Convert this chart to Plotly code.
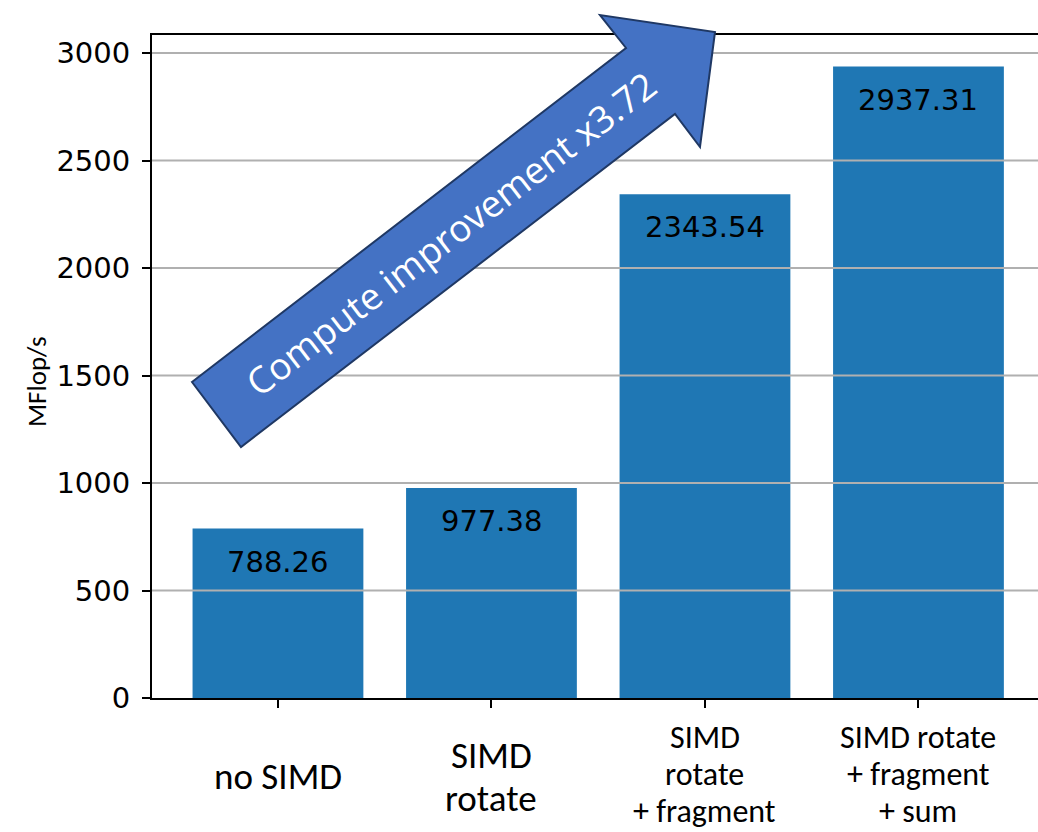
import plotly.graph_objects as go

# Benchmark data
categories = ["no SIMD", "SIMD rotate", "SIMD rotate + fragment", "SIMD rotate + fragment + sum"]
tick_lines = [
    ["no SIMD"],
    ["SIMD", "rotate"],
    ["SIMD", "rotate", "+ fragment"],
    ["SIMD rotate", "+ fragment", "+ sum"],
]
mflops = [788.26, 977.38, 2343.54, 2937.31]
y_ticks = [0, 500, 1000, 1500, 2000, 2500, 3000]
speedup_text = "Compute improvement x3.72"

W, H = 1038, 832
L, T, B = 152, 35, 134
PW, PH = W - L, H - T - B          # plot area in pixels
x_range = [-0.59, -0.59 + PW / 213.5]
y_range = [0, max(mflops) * 1.05]

BAR = "#1f77b4"
GRID = "#b0b0b0"
NUM_FONT = "DejaVu Sans"
LBL_FONT = "Calibri, Carlito, Lato, sans-serif"

# per-label text style: font size, line pitch (px) and first-line centre (px)
label_style = [(37, 43, 776.5), (37, 43, 755.5), (32, 37, 737), (32, 37, 737)]


def px2paper(px, py):
    return (px - L) / PW, (H - B - py) / PH


fig = go.Figure(go.Bar(
    x=categories, y=mflops, width=0.8,
    marker=dict(color=BAR, line=dict(width=0)),
    hoverinfo="skip",
))

shapes = []
# horizontal grid drawn over the bars
for v in y_ticks[1:]:
    shapes.append(dict(type="line", xref="paper", yref="y", x0=0, x1=1, y0=v, y1=v,
                       line=dict(color=GRID, width=2), layer="above"))

# block arrow
arrow_px = [(192, 382), (626, 48), (600, 15), (715, 32), (700, 147), (675, 114), (241, 447)]
pts = [px2paper(*p) for p in arrow_px]
path = "M " + " L ".join(f"{x:.5f},{y:.5f}" for x, y in pts) + " Z"
shapes.append(dict(type="path", xref="paper", yref="paper", path=path,
                   fillcolor="#4472c4", line=dict(color="#1f3864", width=2), layer="above"))

annotations = []
# value labels inside the bar tops
for c, v in zip(categories, mflops):
    annotations.append(dict(x=c, y=v, xref="x", yref="y", text=f"{v:.2f}",
                            showarrow=False, yanchor="middle", yshift=-33,
                            font=dict(family=NUM_FONT, size=29, color="black")))
# category labels under each tick, one annotation per line
for c, lines, (fs, pitch, y0) in zip(categories, tick_lines, label_style):
    for i, line in enumerate(lines):
        annotations.append(dict(x=c, y=px2paper(0, y0 + i * pitch)[1], xref="x", yref="paper",
                                text=line, showarrow=False, xanchor="center", yanchor="middle",
                                font=dict(family=LBL_FONT, size=fs, color="black")))
# axis title
annotations.append(dict(x=px2paper(37, 0)[0], y=px2paper(0, 381)[1], xref="paper", yref="paper",
                        text="MFlop/s", textangle=-90, showarrow=False,
                        xanchor="center", yanchor="middle",
                        font=dict(family=LBL_FONT, size=27, color="black")))
# arrow caption
cx, cy = px2paper(450, 233)
annotations.append(dict(x=cx, y=cy, xref="paper", yref="paper", text=speedup_text,
                        textangle=-37.5, showarrow=False, xanchor="center", yanchor="middle",
                        font=dict(family="Segoe UI, Open Sans, sans-serif", size=37, color="white")))

fig.update_layout(
    width=W, height=H,
    margin=dict(l=L, r=0, t=T, b=B),
    paper_bgcolor="white", plot_bgcolor="white",
    showlegend=False,
    shapes=shapes, annotations=annotations,
    xaxis=dict(type="category", range=x_range, showgrid=False, showticklabels=False,
               ticks="outside", ticklen=8, tickwidth=2, tickcolor="black",
               showline=True, linecolor="black", linewidth=2, mirror=True, zeroline=False),
    yaxis=dict(range=y_range, tickvals=y_ticks, showgrid=False, zeroline=False,
               ticks="outside", ticklen=8, tickwidth=2, tickcolor="black",
               showline=True, linecolor="black", linewidth=2,
               tickfont=dict(family=NUM_FONT, size=29, color="black"),
               ticklabelstandoff=6),
)

fig.write_html("out.html")
